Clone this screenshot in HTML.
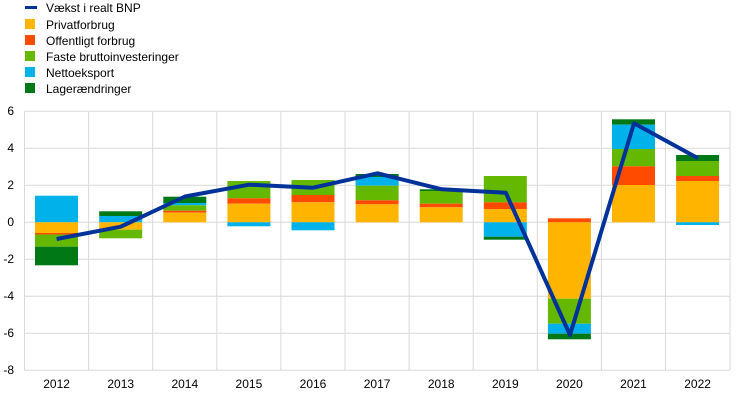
<!DOCTYPE html><html><head><style>body{margin:0;background:#fff}svg{font-family:"Liberation Sans",Arial,sans-serif;font-size:12px}</style></head><body>
<svg width="744" height="400" xmlns="http://www.w3.org/2000/svg">
<g stroke="#d9d9d9" stroke-width="1">
<line x1="24.5" x2="730" y1="111.3" y2="111.3"/><line x1="24.5" x2="730" y1="148.3" y2="148.3"/><line x1="24.5" x2="730" y1="185.3" y2="185.3"/><line x1="24.5" x2="730" y1="222.3" y2="222.3"/><line x1="24.5" x2="730" y1="259.3" y2="259.3"/><line x1="24.5" x2="730" y1="296.3" y2="296.3"/><line x1="24.5" x2="730" y1="333.3" y2="333.3"/><line x1="24.5" x2="730" y1="370.3" y2="370.3"/>
<line x1="24.5" x2="24.5" y1="111" y2="370"/><line x1="88.6" x2="88.6" y1="111" y2="370"/><line x1="152.7" x2="152.7" y1="111" y2="370"/><line x1="216.8" x2="216.8" y1="111" y2="370"/><line x1="280.9" x2="280.9" y1="111" y2="370"/><line x1="345" x2="345" y1="111" y2="370"/><line x1="409.1" x2="409.1" y1="111" y2="370"/><line x1="473.2" x2="473.2" y1="111" y2="370"/><line x1="537.3" x2="537.3" y1="111" y2="370"/><line x1="601.4" x2="601.4" y1="111" y2="370"/><line x1="665.5" x2="665.5" y1="111" y2="370"/><line x1="730" x2="730" y1="111" y2="370"/>
</g>
<g>
<!-- 2012 x=35 -->
<rect x="35" y="195.7" width="43" height="26.6" fill="#00B1EA"/><rect x="35" y="222.3" width="43" height="10.7" fill="#FFB400"/><rect x="35" y="233" width="43" height="1.5" fill="#FF4B00"/><rect x="35" y="234.5" width="43" height="12.2" fill="#65B800"/><rect x="35" y="246.7" width="43" height="18.6" fill="#007816"/>
<!-- 2013 x=99.2 -->
<rect x="99.2" y="211.3" width="43" height="4.7" fill="#007816"/><rect x="99.2" y="216" width="43" height="6.3" fill="#00B1EA"/><rect x="99.2" y="222.3" width="43" height="7.4" fill="#FFB400"/><rect x="99.2" y="229.7" width="43" height="8.6" fill="#65B800"/>
<!-- 2014 x=163.3 -->
<rect x="163.3" y="196.7" width="43" height="6.3" fill="#007816"/><rect x="163.3" y="203" width="43" height="2.3" fill="#00B1EA"/><rect x="163.3" y="205.3" width="43" height="5.4" fill="#65B800"/><rect x="163.3" y="210.7" width="43" height="2" fill="#FF4B00"/><rect x="163.3" y="212.7" width="43" height="9.6" fill="#FFB400"/>
<!-- 2015 x=227.4 -->
<rect x="227.4" y="181" width="43" height="17.3" fill="#65B800"/><rect x="227.4" y="198.3" width="43" height="5.4" fill="#FF4B00"/><rect x="227.4" y="203.7" width="43" height="18.6" fill="#FFB400"/><rect x="227.4" y="222.3" width="43" height="4" fill="#00B1EA"/>
<!-- 2016 x=291.5 -->
<rect x="291.5" y="180" width="43" height="15" fill="#65B800"/><rect x="291.5" y="195" width="43" height="7.3" fill="#FF4B00"/><rect x="291.5" y="202.3" width="43" height="20" fill="#FFB400"/><rect x="291.5" y="222.3" width="43" height="8" fill="#00B1EA"/>
<!-- 2017 x=355.6 -->
<rect x="355.6" y="174" width="43" height="3" fill="#007816"/><rect x="355.6" y="177" width="43" height="8.7" fill="#00B1EA"/><rect x="355.6" y="185.7" width="43" height="14.6" fill="#65B800"/><rect x="355.6" y="200.3" width="43" height="4" fill="#FF4B00"/><rect x="355.6" y="204.3" width="43" height="18" fill="#FFB400"/>
<!-- 2018 x=419.7 -->
<rect x="419.7" y="189.3" width="43" height="1.7" fill="#007816"/><rect x="419.7" y="191" width="43" height="12.7" fill="#65B800"/><rect x="419.7" y="203.7" width="43" height="3.6" fill="#FF4B00"/><rect x="419.7" y="207.3" width="43" height="15" fill="#FFB400"/>
<!-- 2019 x=483.8 -->
<rect x="483.8" y="176" width="43" height="26.3" fill="#65B800"/><rect x="483.8" y="202.3" width="43" height="6.7" fill="#FF4B00"/><rect x="483.8" y="209" width="43" height="13.3" fill="#FFB400"/><rect x="483.8" y="222.3" width="43" height="14.4" fill="#00B1EA"/><rect x="483.8" y="236.7" width="43" height="3" fill="#007816"/>
<!-- 2020 x=547.9 -->
<rect x="547.9" y="218.3" width="43" height="4" fill="#FF4B00"/><rect x="547.9" y="222.3" width="43" height="76.4" fill="#FFB400"/><rect x="547.9" y="298.7" width="43" height="25" fill="#65B800"/><rect x="547.9" y="323.7" width="43" height="10" fill="#00B1EA"/><rect x="547.9" y="333.7" width="43" height="5.6" fill="#007816"/>
<!-- 2021 x=612 -->
<rect x="612" y="119.3" width="43" height="5.4" fill="#007816"/><rect x="612" y="124.7" width="43" height="24.3" fill="#00B1EA"/><rect x="612" y="149" width="43" height="17.3" fill="#65B800"/><rect x="612" y="166.3" width="43" height="18.7" fill="#FF4B00"/><rect x="612" y="185" width="43" height="37.3" fill="#FFB400"/>
<!-- 2022 x=676.1 -->
<rect x="676.1" y="155" width="43" height="6" fill="#007816"/><rect x="676.1" y="161" width="43" height="15" fill="#65B800"/><rect x="676.1" y="176" width="43" height="5" fill="#FF4B00"/><rect x="676.1" y="181" width="43" height="41.3" fill="#FFB400"/><rect x="676.1" y="222.3" width="43" height="2.7" fill="#00B1EA"/>
</g>
<polyline fill="none" stroke="#003299" stroke-width="4" stroke-linejoin="round" points="56.6,239 120.7,226.7 185,196.5 249,184.7 313,187.7 377.6,173.3 441.7,189.3 505.8,192.7 570,335 634,123.3 698,158.3"/>
<g fill="#000" text-anchor="end">
<text x="14" y="115">6</text><text x="14" y="152">4</text><text x="14" y="189">2</text><text x="14" y="226">0</text><text x="14" y="263">-2</text><text x="14" y="300">-4</text><text x="14" y="337">-6</text><text x="14" y="374">-8</text>
</g>
<g fill="#000" text-anchor="middle">
<text x="56.6" y="388">2012</text><text x="120.7" y="388">2013</text><text x="184.8" y="388">2014</text><text x="248.9" y="388">2015</text><text x="313" y="388">2016</text><text x="377.1" y="388">2017</text><text x="441.2" y="388">2018</text><text x="505.3" y="388">2019</text><text x="569.4" y="388">2020</text><text x="633.5" y="388">2021</text><text x="697.6" y="388">2022</text>
</g>
<rect x="25" y="6" width="12" height="3" fill="#003299"/>
<rect x="25" y="19" width="10" height="10" fill="#FFB400"/>
<rect x="25" y="35" width="10" height="10" fill="#FF4B00"/>
<rect x="25" y="51" width="10" height="10" fill="#65B800"/>
<rect x="25" y="67" width="10" height="10" fill="#00B1EA"/>
<rect x="25" y="83" width="10" height="10" fill="#007816"/>
<g fill="#000">
<text x="46" y="12">Vækst i realt BNP</text><text x="46" y="29">Privatforbrug</text><text x="46" y="45">Offentligt forbrug</text><text x="46" y="61">Faste bruttoinvesteringer</text><text x="46" y="77">Nettoeksport</text><text x="46" y="93">Lagerændringer</text>
</g>
</svg>
</body></html>
